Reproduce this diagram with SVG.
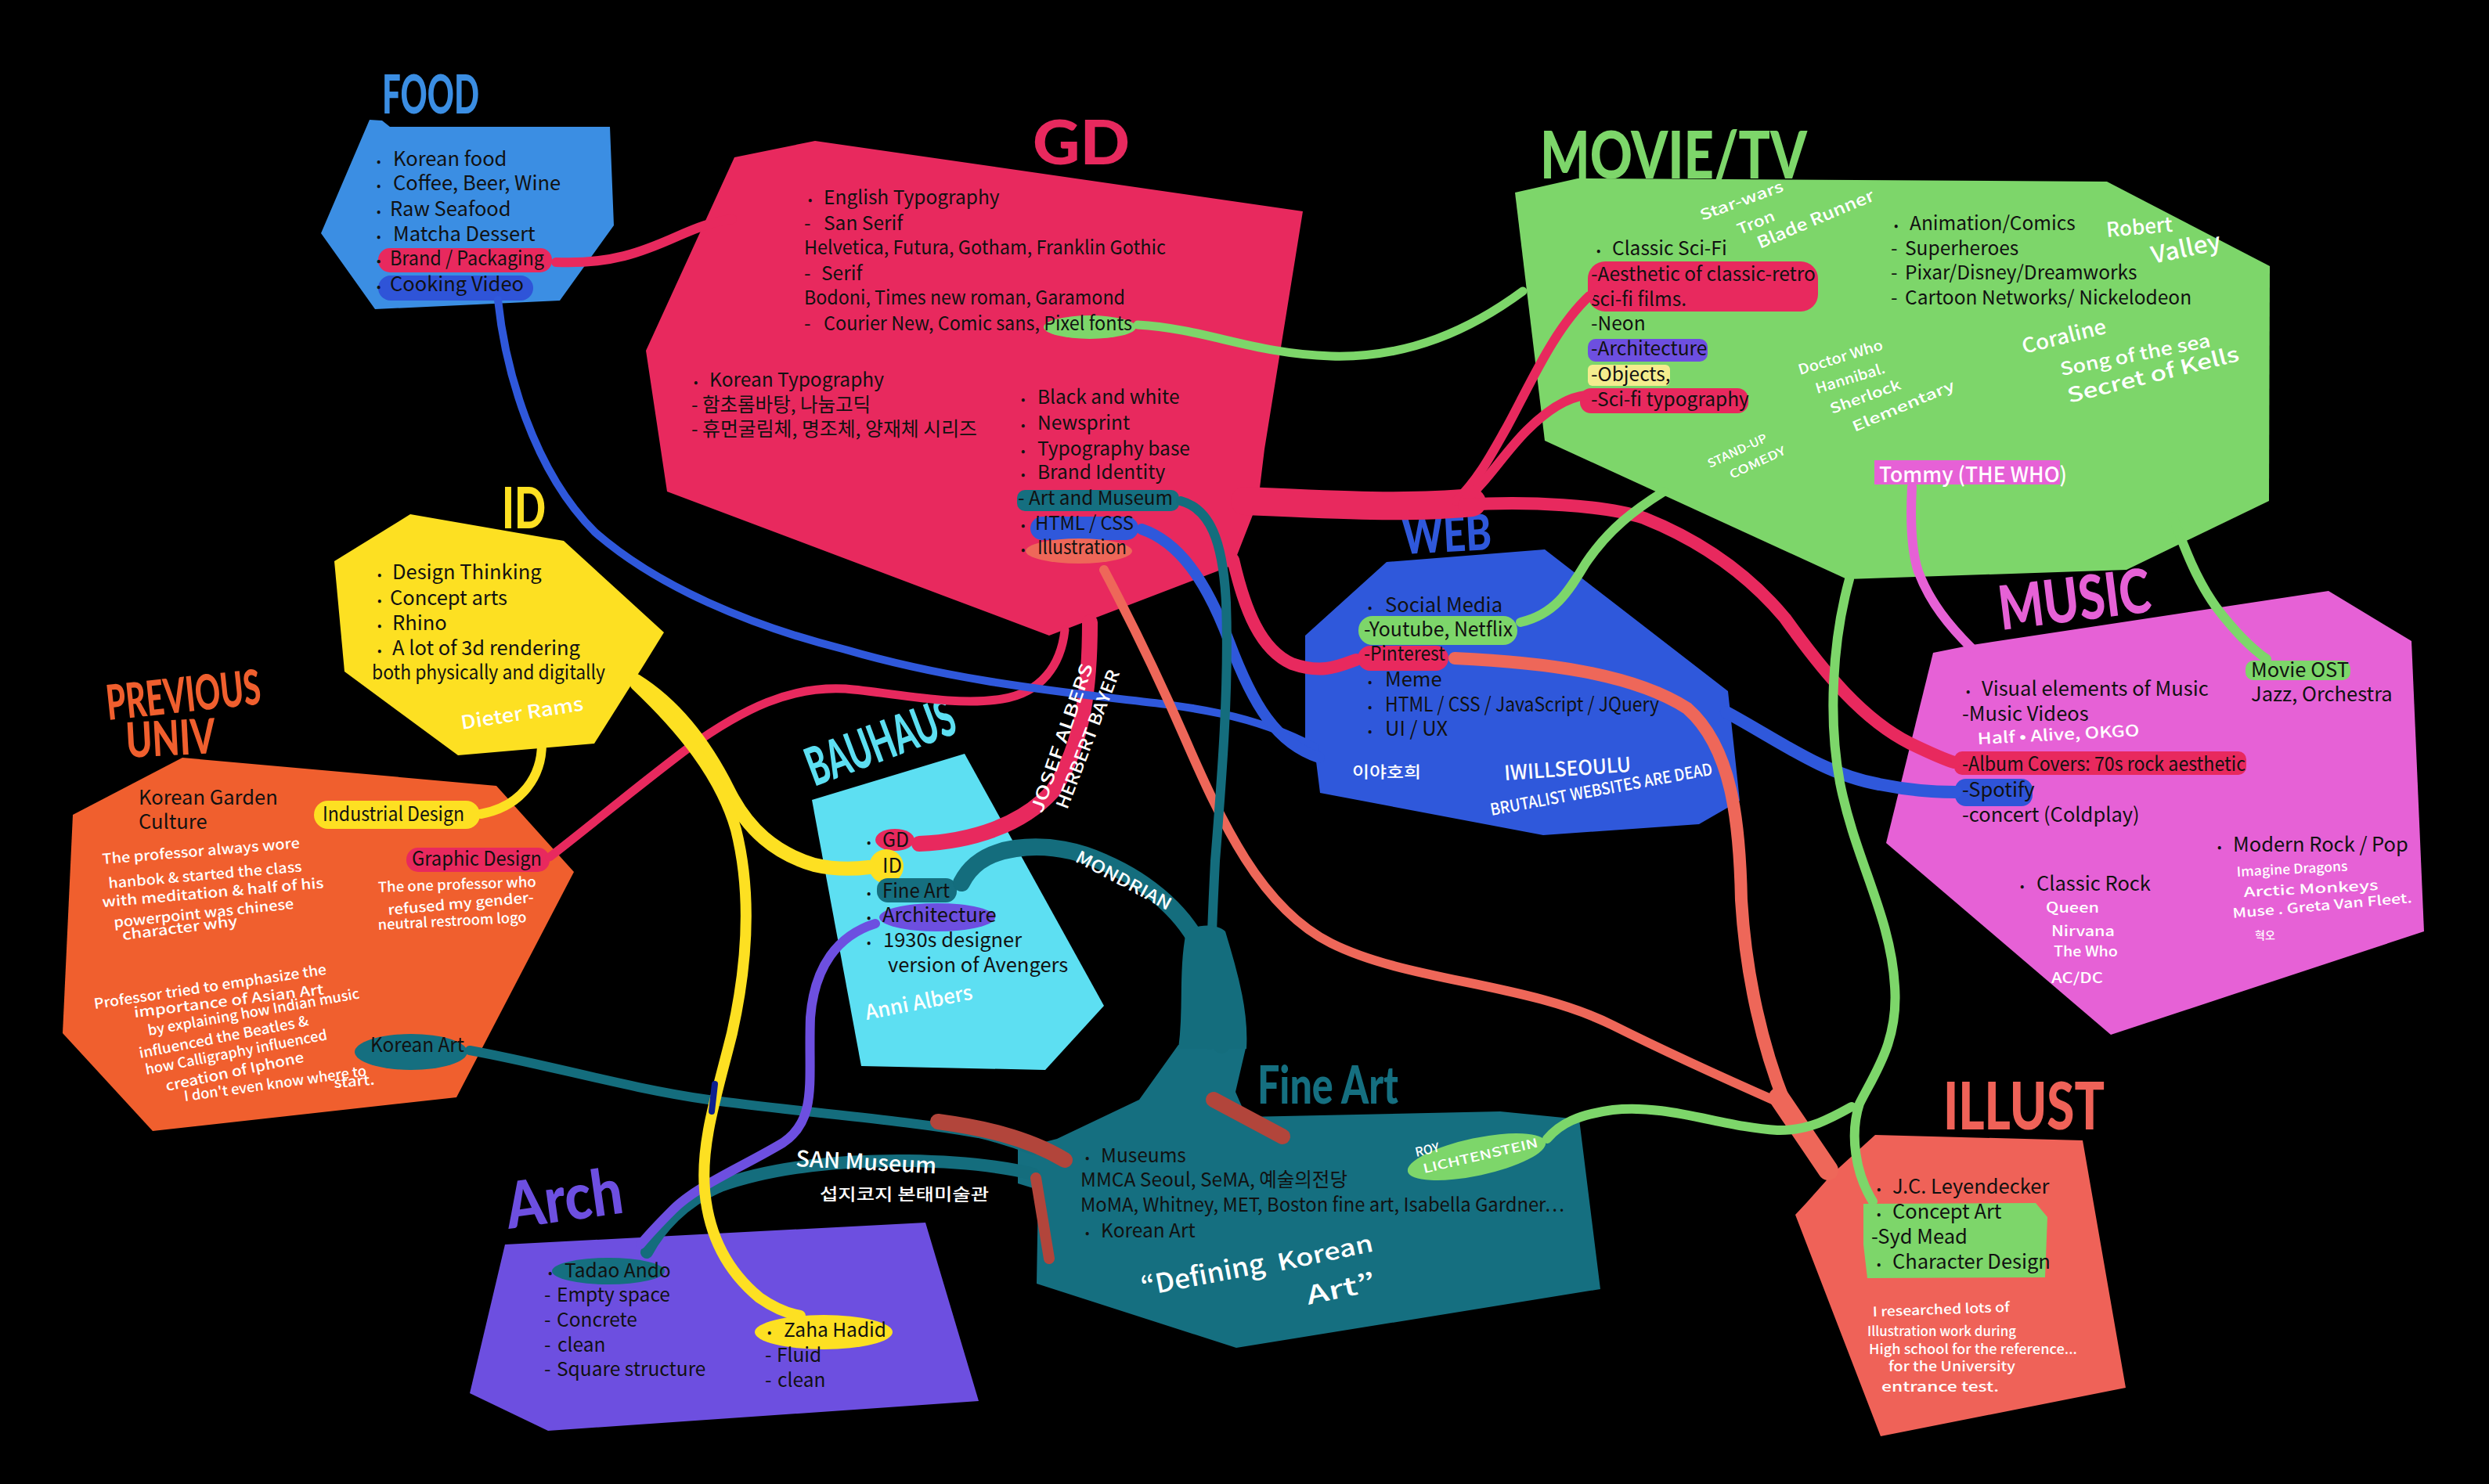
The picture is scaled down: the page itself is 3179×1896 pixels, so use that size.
<svg xmlns="http://www.w3.org/2000/svg" width="3179" height="1896" viewBox="0 0 3179 1896">
<style>
.b{font-family:"Noto Sans CJK KR","Noto Sans",sans-serif;font-size:25.5px;fill:#111}
.n{font-size:24.5px}
.bl{font-size:16px}
.hw{font-family:"Noto Sans CJK KR","Noto Sans",sans-serif;fill:#fff;font-weight:500}
.t{font-family:"Lato","Liberation Sans",sans-serif;font-weight:900}
.c{fill:none;stroke-linecap:round;stroke-linejoin:round}
</style>
<rect width="3179" height="1896" fill="#000"/>

<g id="node-food">
<polygon points="472,153 488,154 498,162 779,162 784,288 715,384 479,395 410,298" fill="#3b8ee3"/>
<text class="t" x="488" y="145" font-size="68" fill="#3b8ee3" textLength="124" lengthAdjust="spacingAndGlyphs">FOOD</text>
<rect x="483" y="317" width="222" height="31" rx="15" fill="#e8295e"/>
<rect x="483" y="352" width="198" height="32" rx="16" fill="#2f54d8"/>
<text class="b" y="212"><tspan class="bl" x="481">•</tspan><tspan x="502">Korean food</tspan></text>
<text class="b" y="243"><tspan class="bl" x="481">•</tspan><tspan x="502">Coffee, Beer, Wine</tspan></text>
<text class="b" y="276"><tspan class="bl" x="481">•</tspan><tspan x="498">Raw Seafood</tspan></text>
<text class="b" y="308"><tspan class="bl" x="481">•</tspan><tspan x="502">Matcha Dessert</tspan></text>
<text class="b" y="339"><tspan class="bl" x="481">•</tspan><tspan x="498" textLength="197" lengthAdjust="spacingAndGlyphs">Brand / Packaging</tspan></text>
<text class="b" y="372"><tspan class="bl" x="481">•</tspan><tspan x="498">Cooking Video</tspan></text>
</g>

<g id="node-gd">
<polygon points="1041,180 938,201 825,448 852,628 1340,812 1575,722 1607,640 1615,574 1664,270" fill="#e8295e"/>
<text class="t" x="1319" y="210" font-size="78" font-weight="700" fill="#e8295e" textLength="124" lengthAdjust="spacingAndGlyphs">GD</text>
<ellipse cx="1392" cy="418" rx="59" ry="15" fill="#7dd66a"/>
<rect x="1299" y="626" width="207" height="27" rx="10" fill="#156f80"/>
<rect x="1316" y="660" width="138" height="30" rx="15" fill="#2f58db"/>
<ellipse cx="1378" cy="704" rx="68" ry="16" fill="#ee6759"/>
<text class="b n" y="261"><tspan class="bl" x="1032">•</tspan><tspan x="1052">English Typography</tspan></text>
<text class="b n" y="294"><tspan x="1027">-</tspan><tspan x="1052">San Serif</tspan></text>
<text class="b n" x="1027" y="325" textLength="462" lengthAdjust="spacingAndGlyphs">Helvetica, Futura, Gotham, Franklin Gothic</text>
<text class="b n" y="358"><tspan x="1027">-</tspan><tspan x="1049">Serif</tspan></text>
<text class="b n" x="1027" y="389" textLength="410" lengthAdjust="spacingAndGlyphs">Bodoni, Times new roman, Garamond</text>
<text class="b n" y="422"><tspan x="1027">-</tspan><tspan x="1052" textLength="394" lengthAdjust="spacingAndGlyphs">Courier New, Comic sans, Pixel fonts</tspan></text>
<text class="b n" y="494"><tspan class="bl" x="886">•</tspan><tspan x="906">Korean Typography</tspan></text>
<text class="b n" y="526"><tspan x="883">- </tspan><tspan x="897">함초롬바탕, 나눔고딕</tspan></text>
<text class="b n" y="557"><tspan x="883">- </tspan><tspan x="897" textLength="351" lengthAdjust="spacingAndGlyphs">휴먼굴림체, 명조체, 양재체 시리즈</tspan></text>
<text class="b n" y="516"><tspan class="bl" x="1304">•</tspan><tspan x="1325">Black and white</tspan></text>
<text class="b n" y="549"><tspan class="bl" x="1304">•</tspan><tspan x="1325">Newsprint</tspan></text>
<text class="b n" y="582"><tspan class="bl" x="1304">•</tspan><tspan x="1325">Typography base</tspan></text>
<text class="b n" y="612"><tspan class="bl" x="1304">•</tspan><tspan x="1325">Brand Identity</tspan></text>
<text class="b n" y="645"><tspan x="1300">-</tspan><tspan x="1314" textLength="184" lengthAdjust="spacingAndGlyphs">Art and Museum</tspan></text>
<text class="b n" y="677"><tspan class="bl" x="1304">•</tspan><tspan x="1322" textLength="126" lengthAdjust="spacingAndGlyphs">HTML / CSS</tspan></text>
<text class="b n" y="708"><tspan class="bl" x="1304">•</tspan><tspan x="1325" textLength="114" lengthAdjust="spacingAndGlyphs">Illustration</tspan></text>
</g>

<g id="node-movie">
<polygon points="1935,246 2015,228 2691,232 2899,340 2898,640 2716,728 2359,740 1973,563" fill="#7dd66a"/>
<text class="t" x="1967" y="228" font-size="84" fill="#7dd66a" textLength="341" lengthAdjust="spacingAndGlyphs">MOVIE/TV</text>
<rect x="2028" y="334" width="294" height="64" rx="22" fill="#e8295e"/>
<rect x="2028" y="433" width="153" height="29" rx="10" fill="#6d4fe0"/>
<rect x="2028" y="466" width="105" height="27" rx="6" fill="#f4ec8e"/>
<rect x="2018" y="496" width="215" height="32" rx="14" fill="#e8295e"/>
<rect x="2394" y="588" width="237" height="31" fill="#e661d6"/>
<text class="b n" y="326"><tspan class="bl" x="2039">•</tspan><tspan x="2059">Classic Sci-Fi</tspan></text>
<text class="b n" x="2032" y="359">-Aesthetic of classic-retro</text>
<text class="b n" x="2032" y="391">sci-fi films.</text>
<text class="b n" x="2032" y="422">-Neon</text>
<text class="b n" x="2032" y="454">-Architecture</text>
<text class="b n" x="2032" y="487">-Objects,</text>
<text class="b n" x="2032" y="519">-Sci-fi typography</text>
<text class="b n" y="294"><tspan class="bl" x="2419">•</tspan><tspan x="2439">Animation/Comics</tspan></text>
<text class="b n" y="326"><tspan x="2415">-</tspan><tspan x="2433">Superheroes</tspan></text>
<text class="b n" y="357"><tspan x="2415">-</tspan><tspan x="2433">Pixar/Disney/Dreamworks</tspan></text>
<text class="b n" y="389"><tspan x="2415">-</tspan><tspan x="2433">Cartoon Networks/ Nickelodeon</tspan></text>
<text class="hw" font-size="19" transform="translate(2174,282) rotate(-20)" textLength="112" lengthAdjust="spacingAndGlyphs">Star-wars</text>
<text class="hw" font-size="19" transform="translate(2222,300) rotate(-22)" textLength="50" lengthAdjust="spacingAndGlyphs">Tron</text>
<text class="hw" font-size="21" transform="translate(2248,318) rotate(-23)" textLength="160" lengthAdjust="spacingAndGlyphs">Blade Runner</text>
<text class="hw" font-size="26" transform="translate(2691,303) rotate(-5)">Robert</text>
<text class="hw" font-size="30" transform="translate(2750,337) rotate(-12)" textLength="90" lengthAdjust="spacingAndGlyphs">Valley</text>
<text class="hw" font-size="18" transform="translate(2299,479) rotate(-17)" textLength="112" lengthAdjust="spacingAndGlyphs">Doctor Who</text>
<text class="hw" font-size="18" transform="translate(2321,503) rotate(-17)" textLength="92" lengthAdjust="spacingAndGlyphs">Hannibal.</text>
<text class="hw" font-size="18" transform="translate(2340,529) rotate(-20)" textLength="95" lengthAdjust="spacingAndGlyphs">Sherlock</text>
<text class="hw" font-size="18" transform="translate(2369,552) rotate(-23)" textLength="140" lengthAdjust="spacingAndGlyphs">Elementary</text>
<text class="hw" font-size="26" transform="translate(2585,452) rotate(-14)" textLength="110" lengthAdjust="spacingAndGlyphs">Coraline</text>
<text class="hw" font-size="23" transform="translate(2633,480) rotate(-11)" textLength="195" lengthAdjust="spacingAndGlyphs">Song of the sea</text>
<text class="hw" font-size="26" transform="translate(2643,515) rotate(-14)" textLength="225" lengthAdjust="spacingAndGlyphs">Secret of Kells</text>
<text class="hw" font-size="15" transform="translate(2184,598) rotate(-25)" textLength="82" lengthAdjust="spacingAndGlyphs">STAND-UP</text>
<text class="hw" font-size="15" transform="translate(2212,612) rotate(-25)" textLength="77" lengthAdjust="spacingAndGlyphs">COMEDY</text>
<text class="hw" font-size="27" x="2400" y="616" textLength="240" lengthAdjust="spacingAndGlyphs">Tommy (THE WHO)</text>
</g>

<g id="node-web">
<polygon points="1667,812 1771,718 1973,702 2207,883 2222,1023 2170,1053 1971,1067 1686,1013 1681,973 1667,950" fill="#2f58db"/>
<text class="t" transform="translate(1792,708) rotate(-3)" font-size="64" fill="#2f58db" textLength="114" lengthAdjust="spacingAndGlyphs">WEB</text>
<rect x="1735" y="787" width="203" height="37" rx="18" fill="#7dd66a"/>
<rect x="1734" y="825" width="116" height="32" rx="16" fill="#e8295e"/>
<text class="b" y="782"><tspan class="bl" x="1747">•</tspan><tspan x="1769">Social Media</tspan></text>
<text class="b" x="1742" y="813" textLength="190" lengthAdjust="spacingAndGlyphs">-Youtube, Netflix</text>
<text class="b" x="1742" y="844" textLength="104" lengthAdjust="spacingAndGlyphs">-Pinterest</text>
<text class="b" y="877"><tspan class="bl" x="1747">•</tspan><tspan x="1769">Meme</tspan></text>
<text class="b" y="909"><tspan class="bl" x="1747">•</tspan><tspan x="1769" textLength="350" lengthAdjust="spacingAndGlyphs">HTML / CSS / JavaScript / JQuery</tspan></text>
<text class="b" y="940"><tspan class="bl" x="1747">•</tspan><tspan x="1769">UI / UX</tspan></text>
<text class="hw" font-size="20" x="1727" y="994" textLength="88" lengthAdjust="spacingAndGlyphs">이야호희</text>
<text class="hw" font-size="26" transform="translate(1922,997) rotate(-4)" textLength="162" lengthAdjust="spacingAndGlyphs">IWILLSEOULU</text>
<text class="hw" font-size="21" transform="translate(1905,1042) rotate(-10.5)" textLength="288" lengthAdjust="spacingAndGlyphs">BRUTALIST WEBSITES ARE DEAD</text>
</g>

<g id="node-music">
<polygon points="2469,834 2519,824 2974,755 3080,819 3096,1190 2696,1322 2409,1077" fill="#e661d6"/>
<text class="t" transform="translate(2556,805) rotate(-7)" font-size="78" fill="#e661d6" textLength="195" lengthAdjust="spacingAndGlyphs">MUSIC</text>
<rect x="2868" y="844" width="134" height="25" rx="10" fill="#7dd66a"/>
<rect x="2496" y="960" width="373" height="30" rx="10" fill="#e8295e"/>
<rect x="2497" y="995" width="99" height="35" rx="14" fill="#2f54d8"/>
<text class="b" y="889"><tspan class="bl" x="2511">•</tspan><tspan x="2531">Visual elements of Music</tspan></text>
<text class="b" x="2506" y="921">-Music Videos</text>
<text class="b" x="2506" y="985" textLength="362" lengthAdjust="spacingAndGlyphs">-Album Covers: 70s rock aesthetic</text>
<text class="b" x="2506" y="1018">-Spotify</text>
<text class="b" x="2506" y="1050">-concert (Coldplay)</text>
<text class="b" x="2875" y="865">Movie OST</text>
<text class="b" x="2875" y="896">Jazz, Orchestra</text>
<text class="b" y="1088"><tspan class="bl" x="2832">•</tspan><tspan x="2852">Modern Rock / Pop</tspan></text>
<text class="b" y="1138"><tspan class="bl" x="2580">•</tspan><tspan x="2601">Classic Rock</tspan></text>
<text class="hw" font-size="20" transform="translate(2526,951) rotate(-3)" textLength="207" lengthAdjust="spacingAndGlyphs">Half • Alive, OKGO</text>
<text class="hw" font-size="17" transform="translate(2857,1120) rotate(-3)" textLength="142" lengthAdjust="spacingAndGlyphs">Imagine Dragons</text>
<text class="hw" font-size="17" transform="translate(2866,1146) rotate(-3)" textLength="172" lengthAdjust="spacingAndGlyphs">Arctic Monkeys</text>
<text class="hw" font-size="17" transform="translate(2852,1173) rotate(-5)" textLength="230" lengthAdjust="spacingAndGlyphs">Muse . Greta Van Fleet.</text>
<text class="hw" font-size="14" x="2880" y="1200">혁오</text>
<text class="hw" font-size="18" x="2613" y="1166" textLength="68" lengthAdjust="spacingAndGlyphs">Queen</text>
<text class="hw" font-size="18" x="2620" y="1196" textLength="81" lengthAdjust="spacingAndGlyphs">Nirvana</text>
<text class="hw" font-size="18" x="2623" y="1222" textLength="82" lengthAdjust="spacingAndGlyphs">The Who</text>
<text class="hw" font-size="18" x="2620" y="1256" textLength="66" lengthAdjust="spacingAndGlyphs">AC/DC</text>
</g>

<g id="node-illust">
<polygon points="2293,1552 2307,1537 2340,1500 2395,1450 2660,1457 2715,1773 2402,1835" fill="#ef6258"/>
<text class="t" x="2482" y="1443" font-size="84" font-weight="400" fill="#ef6258" textLength="206" lengthAdjust="spacingAndGlyphs">ILLUST</text>
<polygon points="2380,1538 2600,1537 2615,1555 2612,1632 2385,1633 2380,1590" fill="#7dd66a"/>
<text class="b" y="1525"><tspan class="bl" x="2397">•</tspan><tspan x="2417">J.C. Leyendecker</tspan></text>
<text class="b" y="1557"><tspan class="bl" x="2397">•</tspan><tspan x="2417">Concept Art</tspan></text>
<text class="b" x="2390" y="1589">-Syd Mead</text>
<text class="b" y="1621"><tspan class="bl" x="2397">•</tspan><tspan x="2417">Character Design</tspan></text>
<text class="hw" font-size="17" transform="translate(2392,1682) rotate(-2)" textLength="175" lengthAdjust="spacingAndGlyphs">I researched lots of</text>
<text class="hw" font-size="17" x="2385" y="1707" textLength="190" lengthAdjust="spacingAndGlyphs">Illustration work during</text>
<text class="hw" font-size="17" x="2387" y="1730" textLength="266" lengthAdjust="spacingAndGlyphs">High school for the reference...</text>
<text class="hw" font-size="17" x="2412" y="1752" textLength="162" lengthAdjust="spacingAndGlyphs">for the University</text>
<text class="hw" font-size="17" x="2403" y="1778" textLength="150" lengthAdjust="spacingAndGlyphs">entrance test.</text>
</g>

<g id="node-fineart">
<polygon points="1300,1468 1350,1455 1455,1405 1505,1335 1592,1335 1578,1395 1592,1427 1916,1420 2017,1430 2044,1647 1579,1722 1324,1640 1326,1520 1300,1512" fill="#156f80"/>
<text class="t" x="1606" y="1410" font-size="66" font-weight="700" fill="#156f80" textLength="180" lengthAdjust="spacingAndGlyphs">Fine Art</text>
<ellipse cx="1886" cy="1478" rx="90" ry="24" transform="rotate(-12 1886 1478)" fill="#7dd66a"/>
<text class="b n" y="1485"><tspan class="bl" x="1386">•</tspan><tspan x="1406">Museums</tspan></text>
<text class="b n" x="1380" y="1516">MMCA Seoul, SeMA, 예술의전당</text>
<text class="b n" x="1380" y="1548" textLength="618" lengthAdjust="spacingAndGlyphs">MoMA, Whitney, MET, Boston fine art, Isabella Gardner…</text>
<text class="b n" y="1581"><tspan class="bl" x="1386">•</tspan><tspan x="1406">Korean Art</tspan></text>
<text class="hw" font-size="34" transform="translate(1460,1656) rotate(-11)" textLength="160" lengthAdjust="spacingAndGlyphs">“Defining</text>
<text class="hw" font-size="30" transform="translate(1634,1624) rotate(-12)" textLength="124" lengthAdjust="spacingAndGlyphs">Korean</text>
<text class="hw" font-size="32" transform="translate(1671,1667) rotate(-12)" textLength="90" lengthAdjust="spacingAndGlyphs">Art”</text>
<text class="hw" font-size="16" font-weight="700" transform="translate(1809,1478) rotate(-13)">ROY</text>
<text class="hw" font-size="16" font-weight="700" transform="translate(1819,1499) rotate(-13)" textLength="150" lengthAdjust="spacingAndGlyphs">LICHTENSTEIN</text>
</g>

<g id="node-arch">
<polygon points="645,1590 1182,1562 1250,1790 700,1828 600,1780" fill="#6d4fe0"/>
<text class="t" transform="translate(650,1570) rotate(-8)" font-size="82" fill="#6d4fe0" textLength="150" lengthAdjust="spacingAndGlyphs">Arch</text>
<ellipse cx="777" cy="1624" rx="72" ry="17" fill="#156f80"/>
<ellipse cx="1052" cy="1702" rx="88" ry="22" fill="#fde022"/>
<text class="b n" y="1632"><tspan class="bl" x="700">•</tspan><tspan x="721">Tadao Ando</tspan></text>
<text class="b n" y="1663"><tspan x="695">-</tspan><tspan x="711">Empty space</tspan></text>
<text class="b n" y="1695"><tspan x="695">-</tspan><tspan x="711">Concrete</tspan></text>
<text class="b n" y="1727"><tspan x="695">-</tspan><tspan x="712">clean</tspan></text>
<text class="b n" y="1758"><tspan x="695">-</tspan><tspan x="711">Square structure</tspan></text>
<text class="b n" y="1708"><tspan class="bl" x="980">•</tspan><tspan x="1001">Zaha Hadid</tspan></text>
<text class="b n" y="1740"><tspan x="977">-</tspan><tspan x="992">Fluid</tspan></text>
<text class="b n" y="1772"><tspan x="977">-</tspan><tspan x="993">clean</tspan></text>
</g>

<g id="node-bauhaus">
<polygon points="1037,1022 1232,963 1410,1285 1335,1367 1100,1362" fill="#5ddff2"/>
<text class="t" transform="translate(1040,1005) rotate(-20.5)" font-size="68" fill="#5ddff2" textLength="198" lengthAdjust="spacingAndGlyphs">BAUHAUS</text>
<ellipse cx="1143" cy="1073" rx="25" ry="14" fill="#e8295e"/>
<circle cx="1132" cy="1107" r="22" fill="#fde022"/>
<rect x="1120" y="1122" width="102" height="31" rx="14" fill="#156f80"/>
<ellipse cx="1197" cy="1172" rx="74" ry="18" fill="#6d4fe0"/>
<text class="b" y="1082"><tspan class="bl" x="1107">•</tspan><tspan x="1127" textLength="34" lengthAdjust="spacingAndGlyphs">GD</tspan></text>
<text class="b" y="1115"><tspan class="bl" x="1107">•</tspan><tspan x="1127">ID</tspan></text>
<text class="b" y="1147"><tspan class="bl" x="1107">•</tspan><tspan x="1127" textLength="86" lengthAdjust="spacingAndGlyphs">Fine Art</tspan></text>
<text class="b" y="1178"><tspan class="bl" x="1107">•</tspan><tspan x="1127">Architecture</tspan></text>
<text class="b" y="1210"><tspan class="bl" x="1107">•</tspan><tspan x="1128">1930s designer</tspan></text>
<text class="b" x="1134" y="1242">version of Avengers</text>
<text class="hw" font-size="26" transform="translate(1107,1303) rotate(-11)" textLength="139" lengthAdjust="spacingAndGlyphs">Anni Albers</text>
</g>

<g id="node-id">
<polygon points="427,717 524,657 720,691 848,808 822,850 759,950 585,965 440,858" fill="#fde022"/>
<text class="t" x="641" y="675" font-size="72" font-weight="700" fill="#fde022" textLength="56" lengthAdjust="spacingAndGlyphs">ID</text>
<text class="b" y="740"><tspan class="bl" x="482">•</tspan><tspan x="501">Design Thinking</tspan></text>
<text class="b" y="773"><tspan class="bl" x="482">•</tspan><tspan x="498">Concept arts</tspan></text>
<text class="b" y="805"><tspan class="bl" x="482">•</tspan><tspan x="501">Rhino</tspan></text>
<text class="b" y="837"><tspan class="bl" x="482">•</tspan><tspan x="501">A lot of 3d rendering</tspan></text>
<text class="b" x="475" y="868" textLength="298" lengthAdjust="spacingAndGlyphs">both physically and digitally</text>
<text class="hw" font-size="24" transform="translate(590,932) rotate(-9)" textLength="158" lengthAdjust="spacingAndGlyphs">Dieter Rams</text>
</g>

<g id="node-previous-univ">
<polygon points="93,1041 233,968 634,1004 733,1114 583,1402 195,1445 80,1320" fill="#f05f2e"/>
<text class="t" transform="translate(138,920) rotate(-6)" font-size="62" fill="#f05f2e" textLength="198" lengthAdjust="spacingAndGlyphs">PREVIOUS</text>
<text class="t" transform="translate(162,968) rotate(-3)" font-size="62" fill="#f05f2e" textLength="114" lengthAdjust="spacingAndGlyphs">UNIV</text>
<rect x="401" y="1023" width="212" height="36" rx="18" fill="#fde022"/>
<rect x="519" y="1083" width="183" height="31" rx="15" fill="#e8295e"/>
<ellipse cx="525" cy="1344" rx="72" ry="23" fill="#156f80"/>
<text class="b" x="177" y="1028">Korean Garden</text>
<text class="b" x="177" y="1059">Culture</text>
<text class="b" x="412" y="1049" textLength="181" lengthAdjust="spacingAndGlyphs">Industrial Design</text>
<text class="b" x="526" y="1106" textLength="166" lengthAdjust="spacingAndGlyphs">Graphic Design</text>
<text class="b" x="473" y="1344" textLength="120" lengthAdjust="spacingAndGlyphs">Korean Art</text>
<g class="hw" font-size="18">
<text transform="translate(131,1104) rotate(-4.7)" textLength="253" lengthAdjust="spacingAndGlyphs">The professor always wore</text>
<text transform="translate(139,1135) rotate(-5)" textLength="248" lengthAdjust="spacingAndGlyphs">hanbok &amp; started the class</text>
<text transform="translate(131,1159) rotate(-5)" textLength="284" lengthAdjust="spacingAndGlyphs">with meditation &amp; half of his</text>
<text transform="translate(146,1185) rotate(-6)" textLength="231" lengthAdjust="spacingAndGlyphs">powerpoint was chinese</text>
<text transform="translate(157,1201) rotate(-7)" textLength="148" lengthAdjust="spacingAndGlyphs">character why</text>
<text transform="translate(483,1140) rotate(-2)" textLength="202" lengthAdjust="spacingAndGlyphs">The one professor who</text>
<text transform="translate(496,1169) rotate(-5)" textLength="187" lengthAdjust="spacingAndGlyphs">refused my gender-</text>
<text transform="translate(483,1188) rotate(-3)" textLength="190" lengthAdjust="spacingAndGlyphs">neutral restroom logo</text>
<text transform="translate(121,1289) rotate(-8.5)" textLength="300" lengthAdjust="spacingAndGlyphs">Professor tried to emphasize the</text>
<text transform="translate(172,1300) rotate(-7)" textLength="244" lengthAdjust="spacingAndGlyphs">importance of Asian Art</text>
<text transform="translate(190,1323) rotate(-10)" textLength="274" lengthAdjust="spacingAndGlyphs">by explaining how Indian music</text>
<text transform="translate(179,1352) rotate(-11)" textLength="220" lengthAdjust="spacingAndGlyphs">influenced the Beatles &amp;</text>
<text transform="translate(187,1373) rotate(-11)" textLength="236" lengthAdjust="spacingAndGlyphs">how Calligraphy influenced</text>
<text transform="translate(213,1394) rotate(-12)" textLength="180" lengthAdjust="spacingAndGlyphs">creation of Iphone</text>
<text transform="translate(236,1407) rotate(-8)" textLength="235" lengthAdjust="spacingAndGlyphs">I don't even know where to</text>
<text transform="translate(427,1390) rotate(-5)" textLength="52" lengthAdjust="spacingAndGlyphs">start.</text>
</g>
</g>

<g id="connectors">
<!-- pink -->
<path class="c" stroke="#e8295e" stroke-width="12" d="M710,335 C780,338 820,322 865,302 C890,291 910,283 935,280"/>
<path class="c" stroke="#e8295e" stroke-width="11" d="M1360,805 C1355,850 1330,885 1280,893 C1220,903 1140,885 1080,880 C1010,876 950,905 880,955 C820,1000 760,1050 702,1095"/>
<path class="c" stroke="#e8295e" stroke-width="20" d="M1392,795 C1392,870 1385,950 1345,1010 C1305,1055 1240,1075 1174,1078"/>
<path class="c" stroke="#e8295e" stroke-width="36" d="M1590,640 C1700,645 1800,650 1880,642"/>
<path class="c" stroke="#e8295e" stroke-width="12" d="M1860,640 C1890,610 1905,580 1925,545 C1955,490 1985,420 2030,378"/>
<path class="c" stroke="#e8295e" stroke-width="12" d="M1870,640 C1900,615 1920,580 1950,550 C1975,525 2000,508 2025,505"/>
<path class="c" stroke="#e8295e" stroke-width="16" d="M1870,645 C1950,640 2050,645 2100,662 C2170,690 2230,730 2280,790 C2330,860 2380,920 2440,950 C2465,962 2482,970 2496,974"/>
<path class="c" stroke="#e8295e" stroke-width="16" d="M1575,715 C1590,780 1610,830 1650,848 C1690,862 1712,850 1732,843"/>
<!-- blue -->
<path class="c" stroke="#2f58db" stroke-width="10" d="M636,383 C645,470 680,600 760,680 C840,750 960,800 1080,830 C1200,865 1320,880 1430,893 C1520,903 1600,912 1680,955"/>
<path class="c" stroke="#2f58db" stroke-width="14" d="M1458,676 C1505,692 1540,740 1570,820 C1600,900 1630,950 1685,968"/>
<path class="c" stroke="#2f58db" stroke-width="16" d="M2205,910 C2270,945 2330,990 2400,1002 C2440,1010 2470,1012 2498,1012"/>
<!-- coral -->
<path class="c" stroke="#ee6759" stroke-width="12" d="M1410,728 C1440,785 1475,855 1512,940 C1560,1050 1610,1160 1700,1205 C1800,1255 1950,1255 2060,1310 C2150,1355 2230,1390 2280,1412"/>
<path class="c" stroke="#ee6759" stroke-width="16" d="M1858,841 C1970,846 2085,860 2155,905 C2212,955 2222,1050 2224,1150 C2230,1250 2252,1340 2280,1410"/>
<path class="c" stroke="#ee6759" stroke-width="26" d="M2272,1402 L2335,1495"/>
<!-- teal -->
<path class="c" stroke="#146d7d" stroke-width="12" d="M1508,640 C1545,650 1562,690 1566,770 C1570,880 1560,1000 1552,1100 C1548,1180 1545,1250 1545,1335"/>
<path class="c" stroke="#146d7d" stroke-width="22" d="M1228,1128 C1238,1108 1256,1090 1297,1084 C1340,1078 1380,1088 1410,1102 C1470,1128 1515,1170 1535,1215 C1550,1250 1555,1290 1560,1335"/>
<path fill="#146d7d" d="M1515,1190 C1530,1180 1555,1180 1565,1190 C1580,1240 1595,1290 1592,1340 L1505,1340 C1512,1290 1505,1240 1515,1190 Z"/>
<path class="c" stroke="#146d7d" stroke-width="12" d="M600,1342 C700,1360 800,1390 905,1405 C1030,1422 1150,1430 1250,1448 C1280,1455 1300,1462 1320,1470"/>
<path class="c" stroke="#146d7d" stroke-width="16" d="M826,1600 C842,1570 872,1535 920,1515 C990,1490 1080,1482 1160,1483 C1220,1484 1280,1490 1320,1500"/>
<!-- purple -->
<path class="c" stroke="#6d4fe0" stroke-width="12" d="M1118,1180 C1070,1195 1040,1235 1035,1300 C1032,1380 1045,1430 1000,1460 C950,1490 890,1515 860,1545 C840,1565 828,1578 818,1590"/>
<!-- yellow -->
<path class="c" stroke="#fde022" stroke-width="18" d="M812,870 C860,900 900,950 930,1010 C955,1060 990,1090 1040,1105 C1070,1112 1095,1110 1110,1108"/>
<path class="c" stroke="#fde022" stroke-width="14" d="M812,875 C870,930 920,990 940,1060 C960,1140 955,1230 935,1320 C915,1400 895,1460 900,1520 C905,1580 930,1625 970,1658 C990,1672 1005,1678 1022,1681"/>
<path class="c" stroke="#fde022" stroke-width="12" d="M692,950 C692,990 668,1030 614,1040"/>
<path class="c" stroke="#0d1f8f" stroke-width="8" d="M913,1385 L909,1420"/>
<!-- green -->
<path class="c" stroke="#7dd66a" stroke-width="11" d="M1453,415 C1540,420 1600,452 1700,455 C1800,458 1880,420 1945,372"/>
<path class="c" stroke="#7dd66a" stroke-width="12" d="M1942,795 C1985,785 2002,758 2025,720 C2055,675 2090,650 2125,628"/>
<path class="c" stroke="#7dd66a" stroke-width="12" d="M2362,740 C2340,820 2335,920 2350,1000 C2370,1100 2415,1170 2420,1260 C2425,1330 2395,1370 2375,1410 C2362,1450 2370,1500 2392,1535"/>
<path class="c" stroke="#7dd66a" stroke-width="12" d="M1976,1455 C1992,1436 2015,1424 2060,1418 C2130,1410 2200,1440 2270,1444 C2310,1445 2340,1428 2365,1414"/>
<path class="c" stroke="#7dd66a" stroke-width="12" d="M2775,660 C2790,700 2805,740 2830,775 C2858,812 2878,830 2895,842"/>
<!-- magenta -->
<path class="c" stroke="#e661d6" stroke-width="12" d="M2442,622 C2440,660 2440,700 2450,730 C2465,770 2490,800 2518,828"/>
<!-- connector labels -->
<text class="hw" font-size="22" font-weight="700" transform="translate(1331,1040) rotate(-71)" textLength="200" lengthAdjust="spacingAndGlyphs">JOSEF ALBERS</text>
<text class="hw" font-size="22" font-weight="700" transform="translate(1363,1035) rotate(-69)" textLength="188" lengthAdjust="spacingAndGlyphs">HERBERT BAYER</text>
<text class="hw" font-size="22" font-weight="700" transform="translate(1372,1100) rotate(28)" textLength="135" lengthAdjust="spacingAndGlyphs">MONDRIAN</text>
<text class="hw" font-size="28" font-weight="700" transform="translate(1016,1490) rotate(3)" textLength="180" lengthAdjust="spacingAndGlyphs">SAN Museum</text>
<text class="hw" font-size="21" x="1047" y="1533" textLength="216" lengthAdjust="spacingAndGlyphs">섭지코지  본태미술관</text>
</g>

<g id="marks">
<path class="c" stroke="#b2453b" stroke-width="20" d="M1198,1433 C1250,1440 1310,1452 1360,1482"/>
<path class="c" stroke="#b2453b" stroke-width="14" d="M1323,1505 L1340,1608"/>
<path class="c" stroke="#b2453b" stroke-width="20" d="M1550,1405 L1638,1452"/>
</g>
</svg>
